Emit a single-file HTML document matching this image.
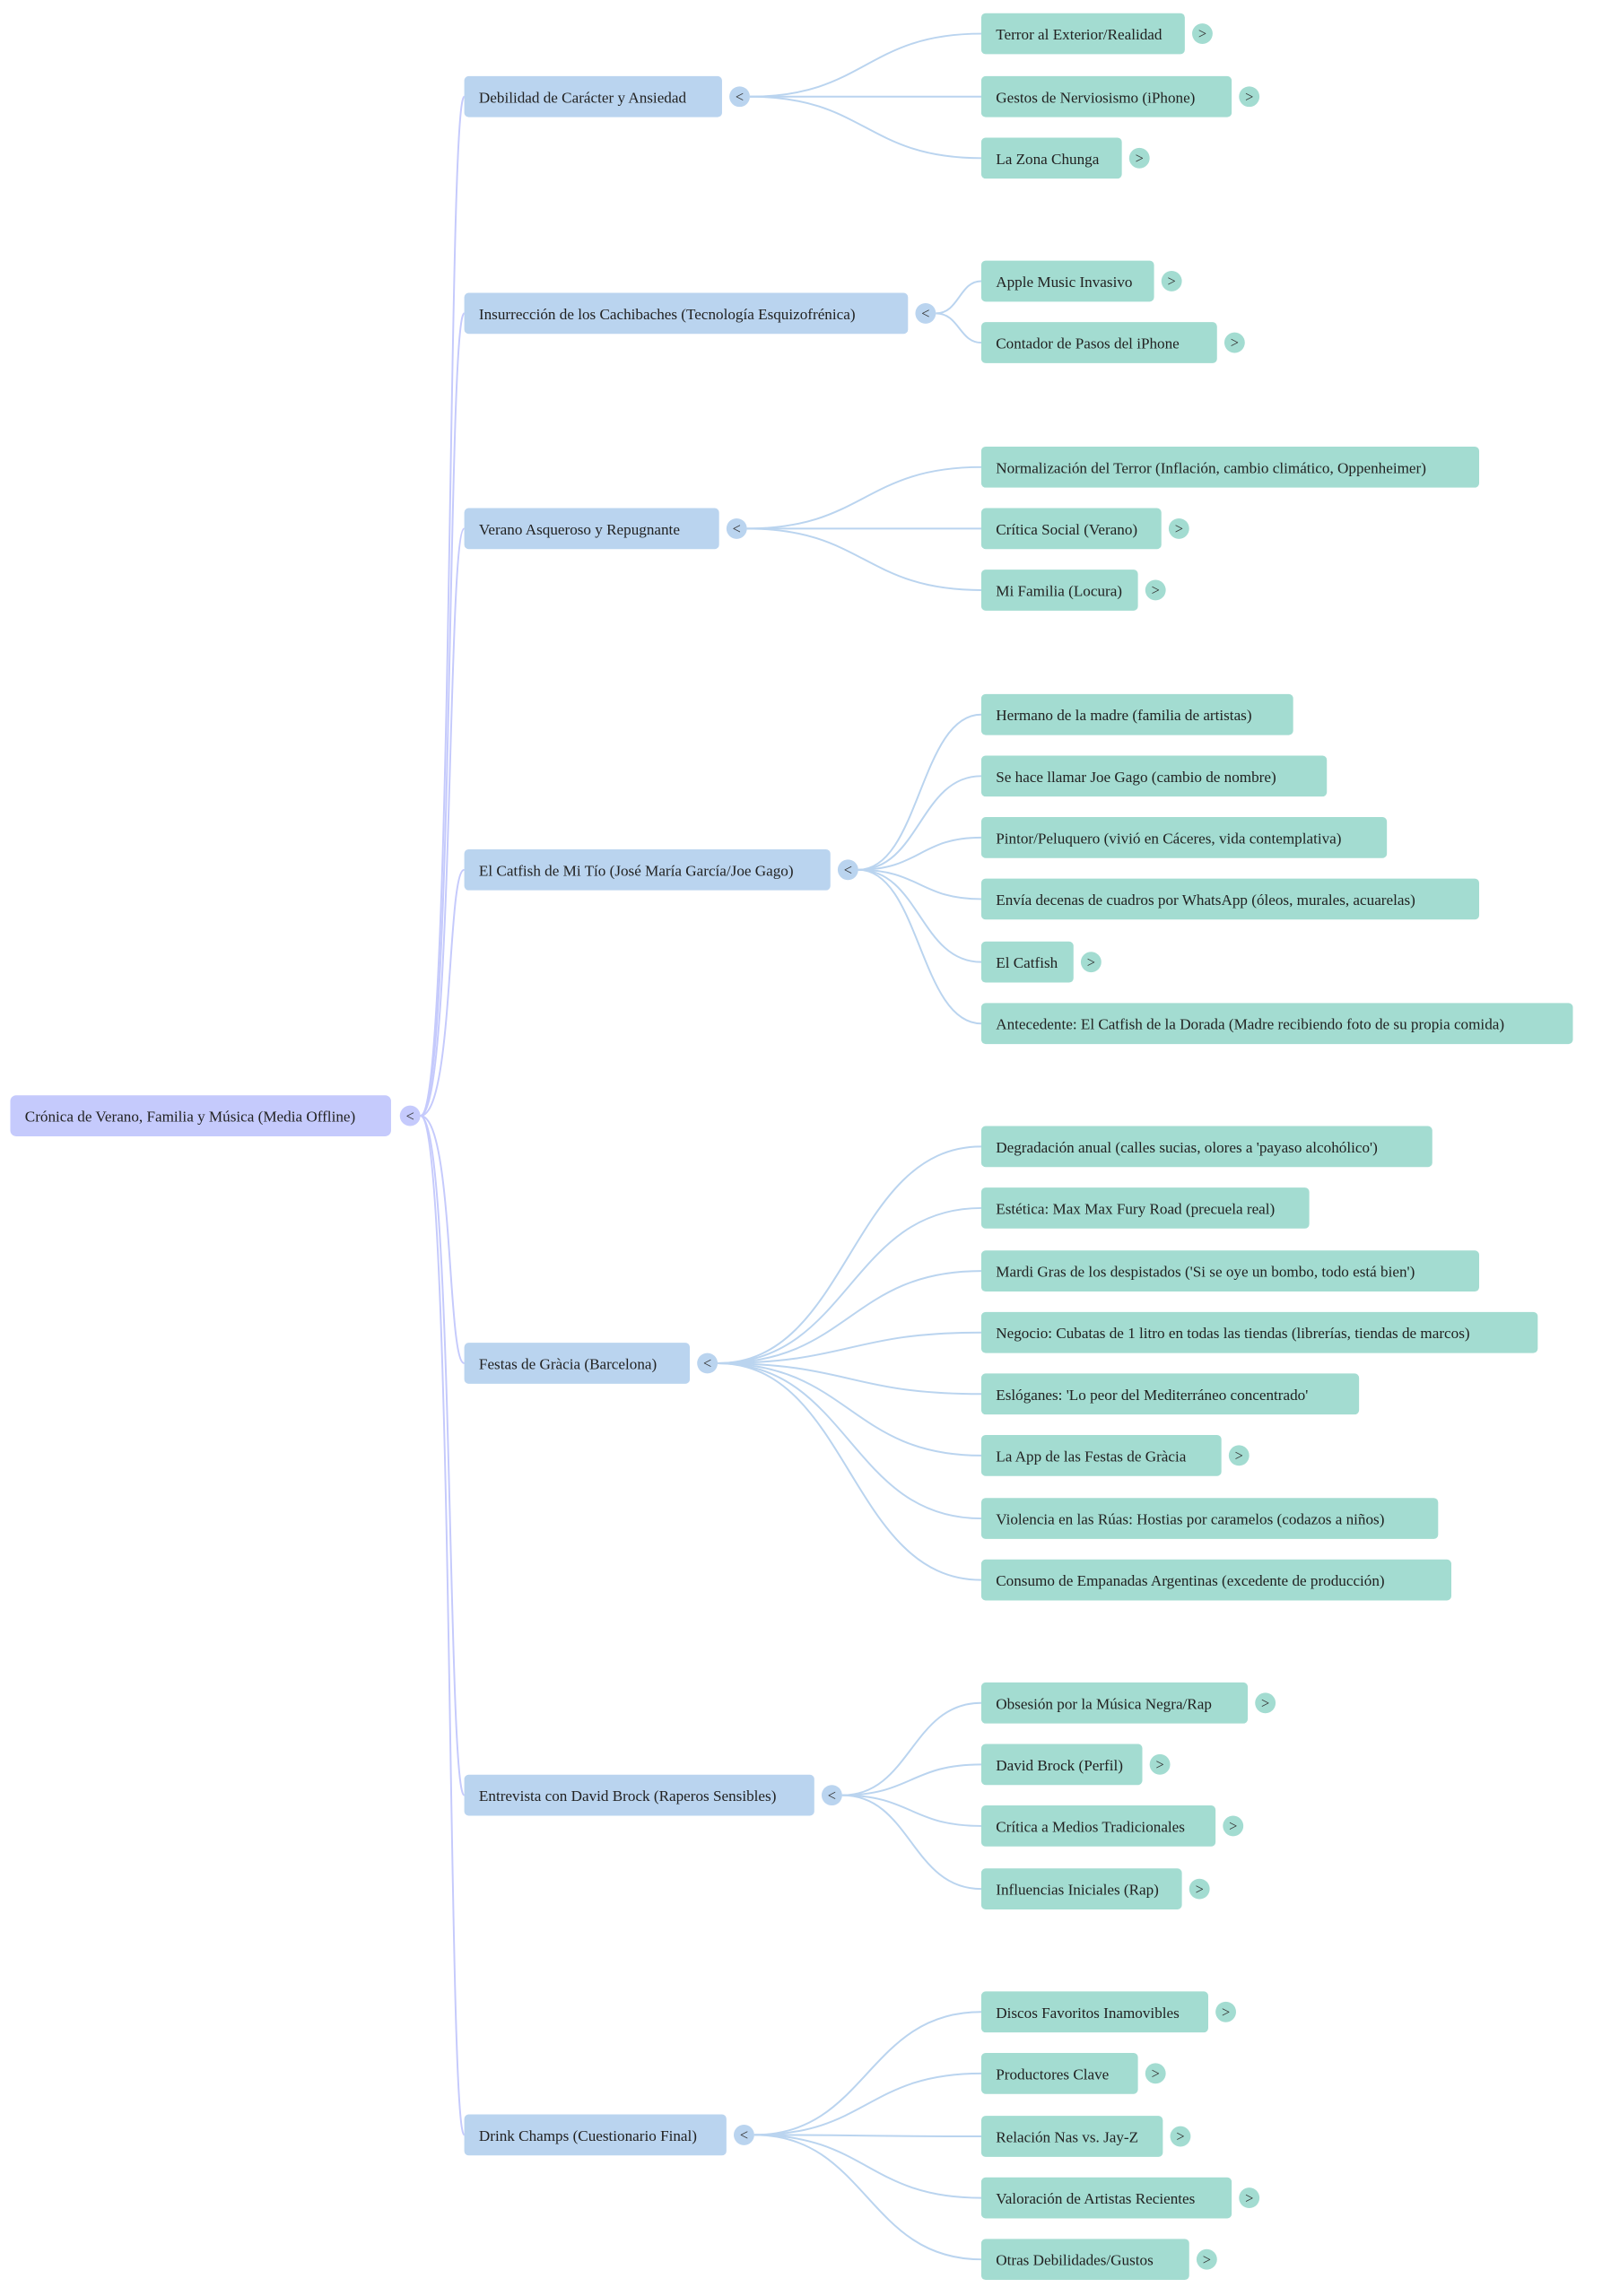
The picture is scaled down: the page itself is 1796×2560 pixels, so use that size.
<!DOCTYPE html>
<html><head><meta charset="utf-8"><style>
html,body{margin:0;padding:0;background:#fff;}
svg{display:block;}
text{font-family:"Liberation Serif",serif;font-size:10.5px;fill:#222;}
.r{fill:#c5cafc;}
.a{fill:#bad4ef;}
.b{fill:#a3dcd1;}
.e0{fill:none;stroke:#c5cafc;stroke-width:1.2;}
.e1{fill:none;stroke:#bad4ef;stroke-width:1.2;}
.t{font-size:10px;text-anchor:middle;fill:#333;}
</style></head><body>
<svg width="1796" height="2560" viewBox="0 0 1100 1568" xmlns="http://www.w3.org/2000/svg">
<path class="e0" d="M287 762 C310 762 305 66 317 66"/>
<path class="e0" d="M287 762 C310 762 305 214 317 214"/>
<path class="e0" d="M287 762 C310 762 305 361 317 361"/>
<path class="e0" d="M287 762 C310 762 305 594 317 594"/>
<path class="e0" d="M287 762 C310 762 305 931 317 931"/>
<path class="e0" d="M287 762 C310 762 305 1226 317 1226"/>
<path class="e0" d="M287 762 C310 762 305 1458 317 1458"/>

<g class="e1">
<path d="M512 66 C591 66 591 23 670 23"/>
<path d="M512 66 C591 66 591 66 670 66"/>
<path d="M512 66 C591 66 591 108 670 108"/>
<path d="M639 214 C655 214 655 192 670 192"/>
<path d="M639 214 C655 214 655 234 670 234"/>
<path d="M510 361 C590 361 590 319 670 319"/>
<path d="M510 361 C590 361 590 361 670 361"/>
<path d="M510 361 C590 361 590 403 670 403"/>
<path d="M586 594 C628 594 628 488 670 488"/>
<path d="M586 594 C628 594 628 530 670 530"/>
<path d="M586 594 C628 594 628 572 670 572"/>
<path d="M586 594 C628 594 628 614 670 614"/>
<path d="M586 594 C628 594 628 657 670 657"/>
<path d="M586 594 C628 594 628 699 670 699"/>
<path d="M490 931 C580 931 580 783 670 783"/>
<path d="M490 931 C580 931 580 825 670 825"/>
<path d="M490 931 C580 931 580 868 670 868"/>
<path d="M490 931 C580 931 580 910 670 910"/>
<path d="M490 931 C580 931 580 952 670 952"/>
<path d="M490 931 C580 931 580 994 670 994"/>
<path d="M490 931 C580 931 580 1037 670 1037"/>
<path d="M490 931 C580 931 580 1079 670 1079"/>
<path d="M575 1226 C622 1226 622 1163 670 1163"/>
<path d="M575 1226 C622 1226 622 1205 670 1205"/>
<path d="M575 1226 C622 1226 622 1247 670 1247"/>
<path d="M575 1226 C622 1226 622 1290 670 1290"/>
<path d="M515 1458 C592 1458 592 1374 670 1374"/>
<path d="M515 1458 C592 1458 592 1416 670 1416"/>
<path d="M515 1458 C592 1458 592 1459 670 1459"/>
<path d="M515 1458 C592 1458 592 1501 670 1501"/>
<path d="M515 1458 C592 1458 592 1543 670 1543"/>
</g>

<rect class="r" x="7" y="748" width="260" height="28" rx="4"/>
<text x="17" y="766">Crónica de Verano, Familia y Música (Media Offline)</text>
<circle class="r" cx="280" cy="762" r="7"/><text class="t" x="280" y="765.5">&lt;</text>

<rect class="a" x="317" y="52" width="176" height="28" rx="3"/><text x="327" y="70">Debilidad de Carácter y Ansiedad</text>
<circle class="a" cx="505" cy="66" r="7"/><text class="t" x="505" y="69.5">&lt;</text>
<rect class="a" x="317" y="200" width="303" height="28" rx="3"/><text x="327" y="218">Insurrección de los Cachibaches (Tecnología Esquizofrénica)</text>
<circle class="a" cx="632" cy="214" r="7"/><text class="t" x="632" y="217.5">&lt;</text>
<rect class="a" x="317" y="347" width="174" height="28" rx="3"/><text x="327" y="365">Verano Asqueroso y Repugnante</text>
<circle class="a" cx="503" cy="361" r="7"/><text class="t" x="503" y="364.5">&lt;</text>
<rect class="a" x="317" y="580" width="250" height="28" rx="3"/><text x="327" y="598">El Catfish de Mi Tío (José María García/Joe Gago)</text>
<circle class="a" cx="579" cy="594" r="7"/><text class="t" x="579" y="597.5">&lt;</text>
<rect class="a" x="317" y="917" width="154" height="28" rx="3"/><text x="327" y="935">Festas de Gràcia (Barcelona)</text>
<circle class="a" cx="483" cy="931" r="7"/><text class="t" x="483" y="934.5">&lt;</text>
<rect class="a" x="317" y="1212" width="239" height="28" rx="3"/><text x="327" y="1230">Entrevista con David Brock (Raperos Sensibles)</text>
<circle class="a" cx="568" cy="1226" r="7"/><text class="t" x="568" y="1229.5">&lt;</text>
<rect class="a" x="317" y="1444" width="179" height="28" rx="3"/><text x="327" y="1462">Drink Champs (Cuestionario Final)</text>
<circle class="a" cx="508" cy="1458" r="7"/><text class="t" x="508" y="1461.5">&lt;</text>

<rect class="b" x="670" y="9" width="139" height="28" rx="3"/><text x="680" y="27">Terror al Exterior/Realidad</text>
<circle class="b" cx="821" cy="23" r="7"/><text class="t" x="821" y="26.5">&gt;</text>
<rect class="b" x="670" y="52" width="171" height="28" rx="3"/><text x="680" y="70">Gestos de Nerviosismo (iPhone)</text>
<circle class="b" cx="853" cy="66" r="7"/><text class="t" x="853" y="69.5">&gt;</text>
<rect class="b" x="670" y="94" width="96" height="28" rx="3"/><text x="680" y="112">La Zona Chunga</text>
<circle class="b" cx="778" cy="108" r="7"/><text class="t" x="778" y="111.5">&gt;</text>

<rect class="b" x="670" y="178" width="118" height="28" rx="3"/><text x="680" y="196">Apple Music Invasivo</text>
<circle class="b" cx="800" cy="192" r="7"/><text class="t" x="800" y="195.5">&gt;</text>
<rect class="b" x="670" y="220" width="161" height="28" rx="3"/><text x="680" y="238">Contador de Pasos del iPhone</text>
<circle class="b" cx="843" cy="234" r="7"/><text class="t" x="843" y="237.5">&gt;</text>

<rect class="b" x="670" y="305" width="340" height="28" rx="3"/><text x="680" y="323">Normalización del Terror (Inflación, cambio climático, Oppenheimer)</text>
<rect class="b" x="670" y="347" width="123" height="28" rx="3"/><text x="680" y="365">Crítica Social (Verano)</text>
<circle class="b" cx="805" cy="361" r="7"/><text class="t" x="805" y="364.5">&gt;</text>
<rect class="b" x="670" y="389" width="107" height="28" rx="3"/><text x="680" y="407">Mi Familia (Locura)</text>
<circle class="b" cx="789" cy="403" r="7"/><text class="t" x="789" y="406.5">&gt;</text>

<rect class="b" x="670" y="474" width="213" height="28" rx="3"/><text x="680" y="492">Hermano de la madre (familia de artistas)</text>
<rect class="b" x="670" y="516" width="236" height="28" rx="3"/><text x="680" y="534">Se hace llamar Joe Gago (cambio de nombre)</text>
<rect class="b" x="670" y="558" width="277" height="28" rx="3"/><text x="680" y="576">Pintor/Peluquero (vivió en Cáceres, vida contemplativa)</text>
<rect class="b" x="670" y="600" width="340" height="28" rx="3"/><text x="680" y="618">Envía decenas de cuadros por WhatsApp (óleos, murales, acuarelas)</text>
<rect class="b" x="670" y="643" width="63" height="28" rx="3"/><text x="680" y="661">El Catfish</text>
<circle class="b" cx="745" cy="657" r="7"/><text class="t" x="745" y="660.5">&gt;</text>
<rect class="b" x="670" y="685" width="404" height="28" rx="3"/><text x="680" y="703">Antecedente: El Catfish de la Dorada (Madre recibiendo foto de su propia comida)</text>

<rect class="b" x="670" y="769" width="308" height="28" rx="3"/><text x="680" y="787">Degradación anual (calles sucias, olores a 'payaso alcohólico')</text>
<rect class="b" x="670" y="811" width="224" height="28" rx="3"/><text x="680" y="829">Estética: Max Max Fury Road (precuela real)</text>
<rect class="b" x="670" y="854" width="340" height="28" rx="3"/><text x="680" y="872">Mardi Gras de los despistados ('Si se oye un bombo, todo está bien')</text>
<rect class="b" x="670" y="896" width="380" height="28" rx="3"/><text x="680" y="914">Negocio: Cubatas de 1 litro en todas las tiendas (librerías, tiendas de marcos)</text>
<rect class="b" x="670" y="938" width="258" height="28" rx="3"/><text x="680" y="956">Eslóganes: 'Lo peor del Mediterráneo concentrado'</text>
<rect class="b" x="670" y="980" width="164" height="28" rx="3"/><text x="680" y="998">La App de las Festas de Gràcia</text>
<circle class="b" cx="846" cy="994" r="7"/><text class="t" x="846" y="997.5">&gt;</text>
<rect class="b" x="670" y="1023" width="312" height="28" rx="3"/><text x="680" y="1041">Violencia en las Rúas: Hostias por caramelos (codazos a niños)</text>
<rect class="b" x="670" y="1065" width="321" height="28" rx="3"/><text x="680" y="1083">Consumo de Empanadas Argentinas (excedente de producción)</text>

<rect class="b" x="670" y="1149" width="182" height="28" rx="3"/><text x="680" y="1167">Obsesión por la Música Negra/Rap</text>
<circle class="b" cx="864" cy="1163" r="7"/><text class="t" x="864" y="1166.5">&gt;</text>
<rect class="b" x="670" y="1191" width="110" height="28" rx="3"/><text x="680" y="1209">David Brock (Perfil)</text>
<circle class="b" cx="792" cy="1205" r="7"/><text class="t" x="792" y="1208.5">&gt;</text>
<rect class="b" x="670" y="1233" width="160" height="28" rx="3"/><text x="680" y="1251">Crítica a Medios Tradicionales</text>
<circle class="b" cx="842" cy="1247" r="7"/><text class="t" x="842" y="1250.5">&gt;</text>
<rect class="b" x="670" y="1276" width="137" height="28" rx="3"/><text x="680" y="1294">Influencias Iniciales (Rap)</text>
<circle class="b" cx="819" cy="1290" r="7"/><text class="t" x="819" y="1293.5">&gt;</text>

<rect class="b" x="670" y="1360" width="155" height="28" rx="3"/><text x="680" y="1378">Discos Favoritos Inamovibles</text>
<circle class="b" cx="837" cy="1374" r="7"/><text class="t" x="837" y="1377.5">&gt;</text>
<rect class="b" x="670" y="1402" width="107" height="28" rx="3"/><text x="680" y="1420">Productores Clave</text>
<circle class="b" cx="789" cy="1416" r="7"/><text class="t" x="789" y="1419.5">&gt;</text>
<rect class="b" x="670" y="1445" width="124" height="28" rx="3"/><text x="680" y="1463">Relación Nas vs. Jay-Z</text>
<circle class="b" cx="806" cy="1459" r="7"/><text class="t" x="806" y="1462.5">&gt;</text>
<rect class="b" x="670" y="1487" width="171" height="28" rx="3"/><text x="680" y="1505">Valoración de Artistas Recientes</text>
<circle class="b" cx="853" cy="1501" r="7"/><text class="t" x="853" y="1504.5">&gt;</text>
<rect class="b" x="670" y="1529" width="142" height="28" rx="3"/><text x="680" y="1547">Otras Debilidades/Gustos</text>
<circle class="b" cx="824" cy="1543" r="7"/><text class="t" x="824" y="1546.5">&gt;</text>
</svg>
</body></html>
